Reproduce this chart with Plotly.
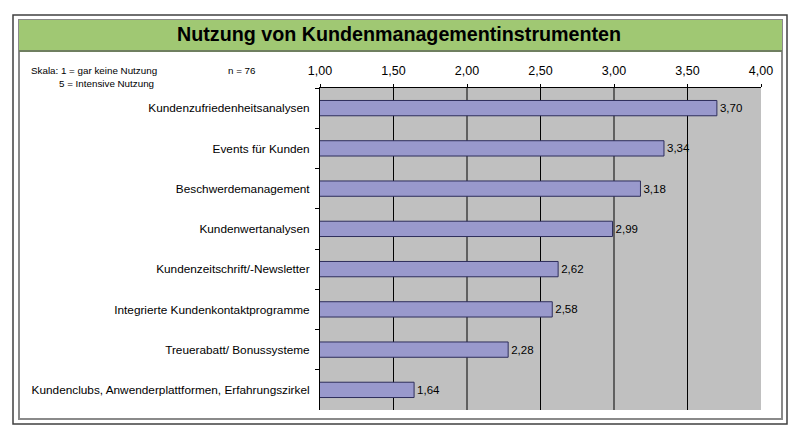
import plotly.graph_objects as go

categories = [
    "Kundenzufriedenheitsanalysen",
    "Events für Kunden",
    "Beschwerdemanagement",
    "Kundenwertanalysen",
    "Kundenzeitschrift/-Newsletter",
    "Integrierte Kundenkontaktprogramme",
    "Treuerabatt/ Bonussysteme",
    "Kundenclubs, Anwenderplattformen, Erfahrungszirkel",
]
values = [3.70, 3.34, 3.18, 2.99, 2.62, 2.58, 2.28, 1.64]
tick_vals = [1.0, 1.5, 2.0, 2.5, 3.0, 3.5, 4.0]
grid_vals = [1.5, 2.0, 2.5, 3.0, 3.5]

W, H = 800, 439
L, R, T, B = 320, 761, 88, 410


def px(x):
    return (x - L) / (R - L)


def py(y):
    return (B - y) / (B - T)


FONT = "Liberation Sans, Arial, sans-serif"

fig = go.Figure()
fig.add_trace(go.Bar(
    x=values,
    y=categories,
    orientation="h",
    width=0.38,
    marker=dict(color="#9999CC", line=dict(color="#2E2E5C", width=1)),
    texttemplate="%{x:.2f}",
    textposition="outside",
    textfont=dict(family=FONT, size=11.5, color="#000000"),
    cliponaxis=False,
    hoverinfo="skip",
))

shapes = [
    # outer frame
    dict(type="rect", xref="paper", yref="paper", x0=px(13), x1=px(787), y0=py(15), y1=py(424),
         line=dict(color="#404040", width=1.5), fillcolor="rgba(0,0,0,0)", layer="below"),
    # inner frame
    dict(type="rect", xref="paper", yref="paper", x0=px(19), x1=px(782), y0=py(20), y1=py(419),
         line=dict(color="#8A8A8A", width=2), fillcolor="rgba(0,0,0,0)", layer="below"),
    # green header
    dict(type="rect", xref="paper", yref="paper", x0=px(19), x1=px(782), y0=py(20), y1=py(51),
         line=dict(width=0), fillcolor="#A0C873", layer="below"),
    dict(type="line", xref="paper", yref="paper", x0=px(19), x1=px(782), y0=py(51), y1=py(51),
         line=dict(color="#6F7F60", width=2), layer="below"),
]
# vertical grid lines (not at the 4,00 edge)
for g in grid_vals:
    shapes.append(dict(type="line", xref="x", yref="paper", x0=g, x1=g, y0=0, y1=1,
                       line=dict(color="#000000", width=1), layer="below"))

annotations = [
    dict(text="<b>Nutzung von Kundenmanagementinstrumenten</b>", xref="paper", yref="paper",
         x=px(399), y=py(34), xanchor="center", yanchor="middle", showarrow=False,
         font=dict(family=FONT, size=19.7, color="#000000")),
    dict(text="Skala: 1 = gar keine Nutzung", xref="paper", yref="paper",
         x=px(29), y=py(71), xanchor="left", yanchor="middle", showarrow=False,
         font=dict(family=FONT, size=9.8, color="#000000")),
    dict(text="5 = Intensive Nutzung", xref="paper", yref="paper",
         x=px(57), y=py(83), xanchor="left", yanchor="middle", showarrow=False,
         font=dict(family=FONT, size=9.8, color="#000000")),
    dict(text="n = 76", xref="paper", yref="paper",
         x=px(226), y=py(70), xanchor="left", yanchor="middle", showarrow=False,
         font=dict(family=FONT, size=9.8, color="#000000")),
]

fig.update_layout(
    width=W, height=H,
    margin=dict(l=L, r=W - R, t=T, b=H - B, pad=0),
    paper_bgcolor="#FFFFFF",
    plot_bgcolor="#C0C0C0",
    separators=",.",
    showlegend=False,
    shapes=shapes,
    annotations=annotations,
    font=dict(family=FONT, size=11, color="#000000"),
    xaxis=dict(
        side="top", range=[1, 4], tickvals=tick_vals, tickformat=".2f",
        showgrid=False,
        showline=True, linecolor="#000000", linewidth=1,
        ticks="outside", ticklen=3, tickcolor="#000000",
        ticklabelstandoff=4,
        tickfont=dict(family=FONT, size=12.5, color="#000000"),
        zeroline=False, fixedrange=True,
    ),
    yaxis=dict(
        autorange="reversed", showgrid=False,
        showline=True, linecolor="#000000", linewidth=1,
        ticks="outside", ticklen=4, tickcolor="#000000", tickson="boundaries",
        ticklabelstandoff=7,
        tickfont=dict(family=FONT, size=11.8, color="#000000"),
        zeroline=False, fixedrange=True,
    ),
)

fig.write_html("out.html")
